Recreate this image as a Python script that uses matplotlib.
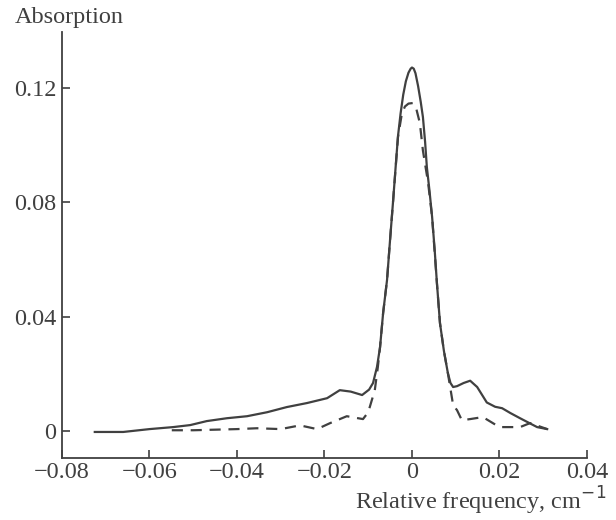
import numpy as np
import matplotlib
matplotlib.use('Agg')
import matplotlib.pyplot as plt

# solid curve
freq_solid = [-0.0725, -0.066, -0.060, -0.0546, -0.0507, -0.0469, -0.0423, -0.0377,
              -0.0331, -0.0286, -0.024, -0.0194, -0.0165, -0.0140, -0.0114, -0.0098,
              -0.0089, -0.0080, -0.0073, -0.0066, -0.0057, -0.0050, -0.0043, -0.0037,
              -0.0032, -0.0026, -0.0020, -0.0014, -0.0008, -0.0003, 0.0, 0.0004,
              0.0008, 0.0014, 0.0020, 0.0025, 0.0030, 0.0034, 0.0040, 0.0046, 0.0052,
              0.0057, 0.0064, 0.0073, 0.0082, 0.0088, 0.0094, 0.0103, 0.0118, 0.0133,
              0.0149, 0.0171, 0.0190, 0.0206, 0.0225, 0.0247, 0.0286, 0.0309]
abs_solid = [-0.0003, -0.0003, 0.0007, 0.0014, 0.0021, 0.0035, 0.0045, 0.0052,
             0.0066, 0.0084, 0.0098, 0.0115, 0.0143, 0.0138, 0.0126, 0.0145,
             0.0168, 0.0224, 0.0293, 0.0412, 0.0528, 0.0670, 0.0807, 0.0930,
             0.1030, 0.1110, 0.1175, 0.1222, 0.1252, 0.1266, 0.1270, 0.1266,
             0.1250, 0.1205, 0.1150, 0.1097, 0.1010, 0.0922, 0.0840, 0.0748, 0.0630,
             0.0517, 0.0377, 0.0280, 0.0203, 0.0168, 0.0154, 0.0157, 0.0168, 0.0176,
             0.0154, 0.0100, 0.0085, 0.0080, 0.0063, 0.0045, 0.0014, 0.0007]

# dashed curve
freq_dash = [-0.0549, -0.050, -0.045, -0.040, -0.0354, -0.030, -0.0256, -0.0217,
             -0.0187, -0.0149, -0.0112, -0.0100, -0.0085, -0.0078, -0.0073, -0.0066,
             -0.0057, -0.0050, -0.0043, -0.0032, -0.0023, -0.0016, -0.0008, 0.0002,
             0.0010, 0.0018, 0.0025, 0.0037, 0.0046, 0.0057, 0.0064, 0.0073, 0.0082,
             0.0094, 0.0103, 0.0114, 0.0133, 0.0162, 0.0200, 0.0247, 0.0270, 0.0309]
abs_dash = [0.0003, 0.0003, 0.0005, 0.0007, 0.0010, 0.0007, 0.0020, 0.0007,
            0.0028, 0.0052, 0.0042, 0.0066, 0.0143, 0.0224, 0.0293, 0.0412,
            0.0528, 0.0670, 0.0807, 0.1027, 0.1110, 0.1134, 0.1144, 0.1146,
            0.1125, 0.1076, 0.0980, 0.0866, 0.0748, 0.0517, 0.0377, 0.0280, 0.0203,
            0.0091, 0.0073, 0.0038, 0.0042, 0.0049, 0.0014, 0.0014, 0.0028, 0.0007]

xticks = [-0.08, -0.06, -0.04, -0.02, 0, 0.02, 0.04]
xticklabels = ['\u22120.08', '\u22120.06', '\u22120.04', '\u22120.02', '0', '0.02', '0.04']
yticks = [0, 0.04, 0.08, 0.12]
yticklabels = ['0', '0.04', '0.08', '0.12']

col = '#404040'
plt.rcParams['font.family'] = ['Liberation Serif', 'DejaVu Serif']

fig = plt.figure(figsize=(6.16, 5.2), dpi=100)
ax = fig.add_axes([0.1006, 0.1192, 0.8523, 0.8192])

ax.plot(freq_solid, abs_solid, color=col, lw=1.6)
ax.plot(freq_dash, abs_dash, color=col, lw=1.6, dashes=(5, 3.5))

ax.set_xlim(-0.08, 0.04)
ax.set_ylim(-0.0094, 0.1394)
for s in ['top', 'right']:
    ax.spines[s].set_visible(False)
for s in ['left', 'bottom']:
    ax.spines[s].set_color(col)
    ax.spines[s].set_linewidth(1.3)

ax.set_xticks(xticks)
ax.set_xticklabels(xticklabels)
ax.set_yticks(yticks)
ax.set_yticklabels(yticklabels)
ax.tick_params(direction='in', length=6, width=1.2, color=col,
               labelcolor=col, labelsize=17.5, pad=4)
ax.tick_params(axis='x', pad=3)

fig.text(15 / 616, 1 - 17 / 520, 'Absorption', ha='left', va='center',
         fontsize=17.5, color=col)
fig.text(606 / 616, 1 - 501 / 520, 'Relative frequency, cm$^{-1}$', ha='right',
         va='center', fontsize=17.5, color=col)

fig.savefig('out.png', dpi=100)
